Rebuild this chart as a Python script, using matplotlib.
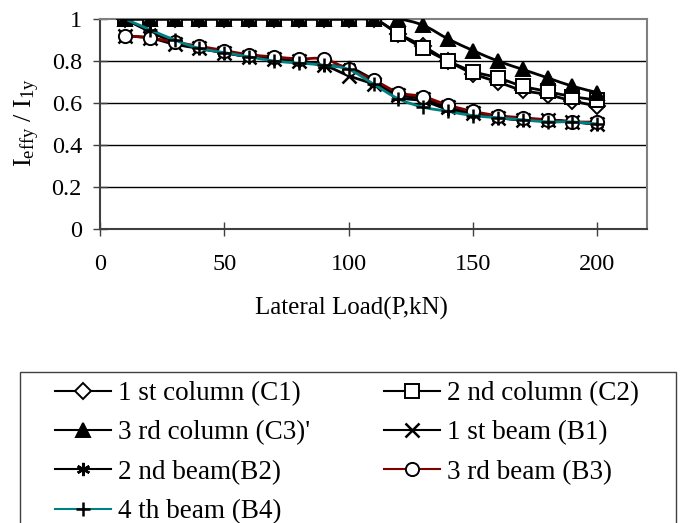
import numpy as np
import matplotlib
matplotlib.use("Agg")
from matplotlib import pyplot as plt
from matplotlib.path import Path
from matplotlib.patches import PathPatch, Rectangle
from matplotlib.lines import Line2D

plt.rcParams["font.family"] = ["Liberation Serif", "DejaVu Serif"]
plt.rcParams["mathtext.fontset"] = "custom"
plt.rcParams["mathtext.rm"] = "Liberation Serif"
plt.rcParams["mathtext.it"] = "Liberation Serif:italic"

# lateral load steps (kN)
load = [10, 20, 30, 40, 50, 60, 70, 80, 90, 100,
        110, 120, 130, 140, 150, 160, 170, 180, 190, 200]

col_c1 = [1, 1, 1, 1, 1, 1, 1, 1, 1, 1,
          1, 0.93, 0.87, 0.80, 0.74, 0.70, 0.66, 0.64, 0.61, 0.585]
col_c2 = [1, 1, 1, 1, 1, 1, 1, 1, 1, 1,
          1, 0.93, 0.86, 0.80, 0.75, 0.72, 0.68, 0.655, 0.63, 0.615]
col_c3 = [1, 1, 1, 1, 1, 1, 1, 1, 1, 1,
          1, 1.0, 0.97, 0.905, 0.85, 0.80, 0.76, 0.72, 0.68, 0.65]
beam_b1 = [0.92, 0.91, 0.88, 0.86, 0.84, 0.82, 0.81, 0.80, 0.78, 0.73,
           0.69, 0.64, 0.62, 0.58, 0.55, 0.53, 0.52, 0.52, 0.51, 0.50]
beam_b2 = [1.0, 0.94, 0.89, 0.86, 0.84, 0.82, 0.81, 0.80, 0.78, 0.77,
           0.71, 0.63, 0.61, 0.57, 0.55, 0.53, 0.52, 0.52, 0.51, 0.50]
beam_b3 = [0.92, 0.91, 0.89, 0.87, 0.85, 0.83, 0.82, 0.81, 0.81, 0.76,
           0.71, 0.65, 0.63, 0.59, 0.56, 0.54, 0.53, 0.52, 0.51, 0.51]
beam_b4 = [1.0, 0.95, 0.90, 0.86, 0.84, 0.82, 0.80, 0.79, 0.78, 0.76,
           0.69, 0.62, 0.58, 0.56, 0.54, 0.53, 0.52, 0.51, 0.51, 0.50]

labels = ["1 st column (C1)", "2 nd column (C2)", "3 rd column (C3)'",
          "1 st beam (B1)", "2 nd beam(B2)", "3 rd beam (B3)", "4 th beam (B4)"]
series = [col_c1, col_c2, col_c3, beam_b1, beam_b2, beam_b3, beam_b4]

# (line colour, marker, marker face)
styles = [
    ("black", "D", "white"),
    ("black", "s", "white"),
    ("black", "^", "black"),
    ("black", "x", "black"),
    ("black", (6, 2, 0), "black"),
    ("#800000", "o", "white"),
    ("#008080", "+", "black"),
]


def smooth_path(x, y):
    """Excel-like smoothed line through the points (Catmull-Rom as Bezier)."""
    pts = np.column_stack([x, y]).astype(float)
    n = len(pts)
    verts = [pts[0]]
    codes = [Path.MOVETO]
    for i in range(n - 1):
        p0 = pts[max(i - 1, 0)]
        p1 = pts[i]
        p2 = pts[i + 1]
        p3 = pts[min(i + 2, n - 1)]
        verts += [p1 + (p2 - p0) / 6, p2 - (p3 - p1) / 6, p2]
        codes += [Path.CURVE4] * 3
    return Path(verts, codes)


def marker_kw(marker, face):
    thin = marker in ("x", "+") or isinstance(marker, tuple)
    return dict(marker=marker, ms=8 if marker == "D" else 9.5, mfc=face,
                mec="black", mew=1.8 if thin else 1.4)


W, H = 680, 523
fig = plt.figure(figsize=(W / 100, H / 100), dpi=100)
ax = fig.add_axes([100 / W, 1 - 229 / H, 547 / W, 210 / H])

for i, (vals, (color, marker, face)) in enumerate(zip(series, styles)):
    z = 3 + i
    ax.add_patch(PathPatch(smooth_path(load, vals), facecolor="none",
                           edgecolor=color, lw=2, zorder=z))
    ax.plot(load, vals, ls="none", zorder=z + 0.5, **marker_kw(marker, face))

ax.set_xlim(0, 220)
ax.set_ylim(0, 1)
ax.set_xticks([0, 50, 100, 150, 200])
ax.set_yticks([0, 0.2, 0.4, 0.6, 0.8, 1])
ax.set_yticklabels(["0", "0.2", "0.4", "0.6", "0.8", "1"])
for yv in [0.2, 0.4, 0.6, 0.8]:
    ax.axhline(yv, color="black", lw=1, zorder=1)

for side in ("top", "right"):
    ax.spines[side].set_color("#808080")
    ax.spines[side].set_linewidth(1.5)
for side in ("left", "bottom"):
    ax.spines[side].set_color("#404040")
    ax.spines[side].set_linewidth(1.5)

ax.tick_params(axis="both", direction="inout", length=10, width=1,
               color="#404040", labelsize=17.5)
ax.tick_params(axis="y", pad=8)
ax.tick_params(axis="x", pad=13)

fig.text(351 / W, 1 - 308 / H, "Lateral Load(P,kN)", fontsize=18,
         ha="center", va="center")
fig.text(27 / W, 1 - 123 / H, r"$\mathregular{I_{effy}\ /\ I_{1y}}$",
         fontsize=19, rotation=90, ha="center", va="center")

handles = []
for color, marker, face in styles:
    kw = marker_kw(marker, face)
    handles.append(Line2D([], [], color=color, lw=1.5, **kw))

# legend box, open at the bottom edge of the picture
fig.patches.append(Rectangle((20 / W, -0.02), 656 / W, 1 - 372 / H + 0.02,
                             transform=fig.transFigure, fill=False,
                             ec="#404040", lw=1))

# legend fills column-wise, reorder so rows read C1 C2 / C3 B1 / B2 B3 / B4
order = [0, 2, 4, 6, 1, 3, 5]
fig.legend([handles[i] for i in order], [labels[i] for i in order],
           ncol=2, loc="upper left", bbox_to_anchor=(55 / W, 1 - 381 / H),
           fontsize=19.5, frameon=False, handlelength=2.05,
           handletextpad=0.26, labelspacing=0.53, columnspacing=2.75,
           borderpad=0, borderaxespad=0)

fig.savefig("out.png", dpi=100)
